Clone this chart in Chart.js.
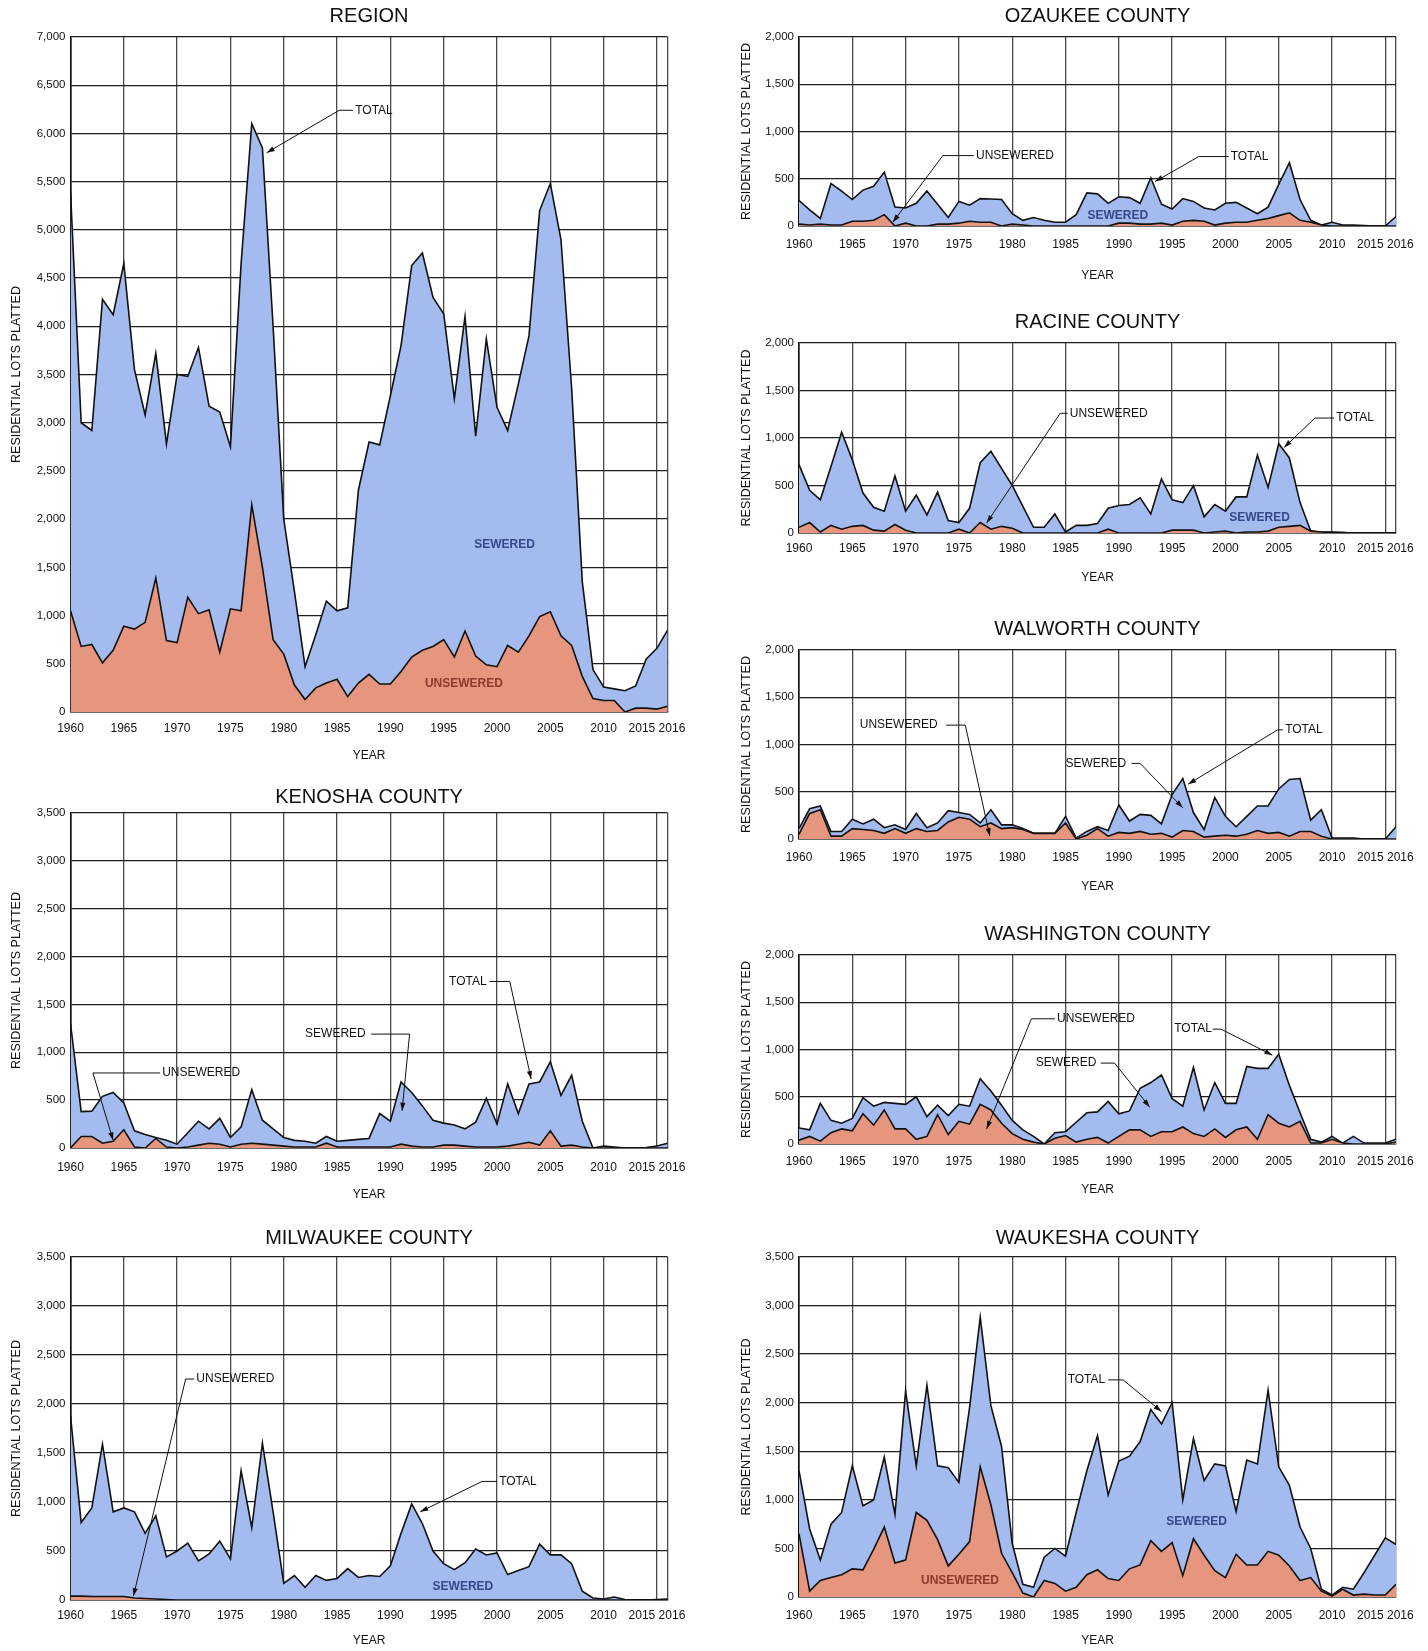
<!DOCTYPE html>
<html>
<head>
<meta charset="utf-8">
<script src="https://cdn.jsdelivr.net/npm/chart.js@4.4.0/dist/chart.umd.min.js"></script>
<style>
  body { margin: 0; background: #fff; width: 1428px; height: 1651px; position: relative; overflow: hidden; }
  canvas { position: absolute; }
</style>
</head>
<body>
<canvas id="region"></canvas>
<canvas id="kenosha"></canvas>
<canvas id="milwaukee"></canvas>
<canvas id="ozaukee"></canvas>
<canvas id="racine"></canvas>
<canvas id="walworth"></canvas>
<canvas id="washington"></canvas>
<canvas id="waukesha"></canvas>
<script>
const years = [1960, 1961, 1962, 1963, 1964, 1965, 1966, 1967, 1968, 1969,
    1970, 1971, 1972, 1973, 1974, 1975, 1976, 1977, 1978, 1979,
    1980, 1981, 1982, 1983, 1984, 1985, 1986, 1987, 1988, 1989,
    1990, 1991, 1992, 1993, 1994, 1995, 1996, 1997, 1998, 1999,
    2000, 2001, 2002, 2003, 2004, 2005, 2006, 2007, 2008, 2009,
    2010, 2011, 2012, 2013, 2014, 2015, 2016];
const xTicks = [1960, 1965, 1970, 1975, 1980, 1985, 1990, 1995, 2000, 2005, 2010, 2015, 2016];

// residential lots platted per year: total and unsewered (sewered = total - unsewered)
const regionTotal = [5400, 3000, 2920, 4280, 4120, 4650, 3550, 3080, 3720, 2780,
    3500, 3480, 3780, 3170, 3110, 2750, 4650, 6100, 5850, 4000,
    2000, 1250, 470, 800, 1150, 1050, 1080, 2300, 2800, 2770,
    3280, 3800, 4630, 4760, 4300, 4130, 3250, 4100, 2860, 3870,
    3160, 2920, 3400, 3900, 5200, 5480, 4900, 3360, 1350, 440,
    260, 240, 220, 270, 550, 660, 850];
const regionUnsewered = [1050, 680, 700, 510, 640, 890, 860, 930, 1390, 740,
    720, 1190, 1020, 1060, 620, 1070, 1050, 2150, 1500, 750,
    600, 280, 130, 250, 300, 340, 160, 300, 390, 290,
    290, 420, 570, 640, 680, 750, 570, 840, 580, 490,
    470, 690, 620, 790, 990, 1040, 790, 690, 370, 140,
    120, 120, 0, 40, 40, 30, 60];

const kenoshaTotal = [1300, 380, 385, 540, 580, 470, 180, 140, 110, 80,
    40, 160, 280, 200, 310, 110, 220, 610, 290, 200,
    110, 80, 70, 50, 120, 70, 80, 90, 100, 360,
    280, 690, 580, 440, 290, 260, 240, 200, 270, 520,
    250, 670, 360, 670, 690, 900, 550, 760, 280, 0,
    20, 10, 0, 0, 5, 20, 50];
const kenoshaUnsewered = [0, 120, 120, 50, 70, 190, 10, 0, 100, 10,
    0, 10, 30, 50, 40, 10, 40, 50, 40, 30,
    20, 10, 10, 10, 50, 10, 10, 10, 10, 10,
    10, 40, 20, 10, 10, 30, 30, 20, 10, 10,
    10, 20, 40, 60, 30, 180, 20, 30, 10, 0,
    0, 0, 0, 0, 0, 0, 0];

const milwaukeeTotal = [1880, 790, 940, 1590, 900, 940, 900, 680, 860, 440,
    500, 580, 400, 470, 600, 420, 1320, 740, 1600, 900,
    170, 250, 130, 250, 200, 220, 320, 230, 250, 240,
    350, 680, 980, 780, 500, 370, 310, 380, 520, 460,
    480, 260, 300, 340, 570, 460, 460, 370, 90, 20,
    10, 30, 5, 0, 0, 5, 10];
const milwaukeeUnsewered = [40, 40, 35, 35, 35, 35, 20, 15, 10, 5,
    0, 0, 0, 0, 0, 0, 0, 0, 0, 0,
    0, 0, 0, 0, 0, 0, 0, 0, 0, 0,
    0, 0, 0, 0, 0, 0, 0, 0, 0, 0,
    0, 0, 0, 0, 0, 0, 0, 0, 0, 0,
    0, 0, 0, 0, 0, 0, 0];

const ozaukeeTotal = [270, 170, 80, 450, 370, 280, 380, 420, 570, 200,
    190, 240, 370, 230, 90, 260, 220, 290, 285, 280,
    130, 60, 90, 60, 40, 40, 120, 350, 340, 240,
    310, 300, 240, 510, 230, 180, 290, 260, 190, 170,
    240, 250, 190, 130, 200, 440, 670, 280, 60, 10,
    40, 10, 10, 5, 0, 0, 100];
const ozaukeeUnsewered = [20, 10, 20, 10, 10, 50, 50, 60, 120, 0,
    30, 0, 0, 20, 20, 30, 50, 40, 40, 0,
    20, 10, 0, 0, 0, 0, 0, 0, 0, 0,
    30, 30, 20, 20, 30, 10, 50, 60, 50, 10,
    30, 40, 40, 60, 80, 110, 140, 60, 40, 10,
    0, 0, 0, 0, 0, 0, 0];

const racineTotal = [720, 450, 350, 700, 1060, 770, 420, 270, 230, 600,
    230, 400, 190, 430, 130, 110, 260, 740, 860, 680,
    500, 280, 60, 60, 200, 10, 80, 80, 100, 260,
    290, 300, 370, 200, 570, 350, 320, 500, 170, 300,
    230, 380, 380, 820, 480, 940, 790, 320, 20, 10,
    10, 5, 0, 0, 0, 0, 0];
const racineUnsewered = [60, 110, 10, 80, 40, 70, 80, 30, 20, 90,
    30, 0, 0, 0, 0, 40, 0, 110, 40, 70,
    50, 0, 0, 0, 0, 0, 0, 0, 0, 40,
    0, 0, 0, 0, 0, 30, 30, 30, 0, 10,
    20, 0, 10, 10, 20, 60, 70, 80, 20, 10,
    5, 5, 0, 0, 0, 0, 0];

const walworthTotal = [110, 320, 350, 80, 80, 210, 160, 210, 120, 150,
    100, 270, 120, 170, 300, 280, 260, 170, 310, 150,
    150, 110, 60, 60, 60, 240, 10, 80, 130, 90,
    360, 190, 260, 250, 160, 470, 640, 280, 100, 440,
    240, 130, 240, 350, 350, 530, 630, 640, 200, 310,
    10, 10, 10, 0, 0, 0, 130];
const walworthUnsewered = [50, 270, 310, 30, 30, 110, 100, 90, 60, 110,
    60, 110, 80, 90, 180, 230, 210, 130, 170, 110,
    120, 100, 60, 60, 60, 170, 0, 40, 110, 30,
    70, 60, 80, 50, 60, 20, 90, 80, 20, 30,
    40, 30, 50, 90, 60, 70, 30, 80, 80, 30,
    0, 0, 0, 0, 0, 0, 0];

const washingtonTotal = [170, 150, 430, 250, 220, 270, 490, 400, 440, 430,
    420, 500, 290, 410, 300, 420, 400, 690, 560, 410,
    250, 150, 80, 0, 120, 130, 230, 330, 340, 450,
    320, 350, 590, 650, 730, 480, 400, 810, 360, 650,
    430, 430, 820, 800, 800, 950, 620, 330, 50, 20,
    80, 10, 80, 10, 10, 10, 50];
const washingtonUnsewered = [40, 80, 30, 120, 160, 140, 320, 200, 360, 160,
    160, 50, 80, 310, 100, 240, 210, 420, 360, 220,
    110, 50, 20, 0, 60, 90, 20, 50, 70, 10,
    80, 150, 150, 80, 130, 130, 180, 110, 80, 160,
    70, 150, 180, 50, 310, 220, 180, 240, 10, 10,
    50, 10, 0, 0, 0, 0, 20];

const waukeshaTotal = [1300, 700, 380, 750, 870, 1350, 940, 1000, 1440, 850,
    2120, 1350, 2180, 1350, 1330, 1180, 1950, 2880, 1970, 1550,
    550, 130, 100, 410, 500, 420, 870, 1300, 1660, 1050,
    1400, 1450, 1600, 1930, 1780, 2000, 1000, 1630, 1200, 1370,
    1350, 880, 1410, 1370, 2130, 1340, 1150, 720, 500, 80,
    20, 100, 80, 250, 430, 610, 540];
const waukeshaUnsewered = [650, 60, 170, 200, 230, 290, 280, 490, 720, 350,
    380, 870, 790, 590, 320, 440, 570, 1340, 950, 450,
    250, 40, 0, 170, 140, 60, 100, 230, 280, 190,
    170, 290, 330, 580, 470, 560, 220, 600, 430, 270,
    200, 440, 330, 330, 470, 430, 320, 170, 200, 60,
    10, 80, 20, 30, 20, 20, 130];

const FONT = '"Liberation Sans", Arial, Helvetica, sans-serif';
const blueFill = '#a3bbee';
const salmonFill = '#e6957f';
const sewText = '#36488a';
const unsText = '#8e3a2c';

const panels = [
    { id: 'region', title: 'REGION', total: regionTotal, unsewered: regionUnsewered, yMax: 7000,
      box: [0, 0, 700], plot: [70.5, 37, 667.6, 712], titleY: 16, tickY: 16, yearY: 44,
      notes: [
        { text: 'TOTAL', x: 1986.7, y: 6240, path: [[1986.5, 6240], [1985.2, 6240], [1978.4, 5800]] },
        { text: 'SEWERED', x: 2000.7, y: 1736, align: 'center', color: sewText, bold: true },
        { text: 'UNSEWERED', x: 1996.9, y: 295, align: 'center', color: unsText, bold: true }
      ] },
    { id: 'kenosha', title: 'KENOSHA COUNTY', total: kenoshaTotal, unsewered: kenoshaUnsewered, yMax: 3500,
      box: [0, 780, 700], plot: [70.5, 813, 667.6, 1148], titleY: 797, tickY: 19, yearY: 47,
      notes: [
        { text: 'UNSEWERED', x: 1968.6, y: 784, path: [[1968.4, 784], [1962.1, 784], [1964, 80]] },
        { text: 'SEWERED', x: 1982, y: 1190, path: [[1988.2, 1190], [1991.8, 1190], [1991.1, 390]] },
        { text: 'TOTAL', x: 1995.5, y: 1740, path: [[1999.3, 1740], [2001.2, 1740], [2003.2, 720]] }
      ] },
    { id: 'milwaukee', title: 'MILWAUKEE COUNTY', total: milwaukeeTotal, unsewered: milwaukeeUnsewered, yMax: 3500,
      box: [0, 1220, 700], plot: [70.5, 1257, 667.6, 1600], titleY: 1238, tickY: 15, yearY: 41,
      notes: [
        { text: 'UNSEWERED', x: 1971.8, y: 2255, path: [[1971.6, 2255], [1970.8, 2255], [1965.9, 40]] },
        { text: 'TOTAL', x: 2000.2, y: 1210, path: [[2000, 1210], [1998.6, 1210], [1992.8, 900]] },
        { text: 'SEWERED', x: 1996.8, y: 140, align: 'center', color: sewText, bold: true }
      ] },
    { id: 'ozaukee', title: 'OZAUKEE COUNTY', total: ozaukeeTotal, unsewered: ozaukeeUnsewered, yMax: 2000,
      box: [730, 0, 698], plot: [799, 37, 1396, 226], titleY: 16, tickY: 18, yearY: 50,
      notes: [
        { text: 'UNSEWERED', x: 1976.6, y: 745, path: [[1976.4, 745], [1973.5, 745], [1968.8, 40]] },
        { text: 'TOTAL', x: 2000.5, y: 735, path: [[2000.3, 735], [1997.5, 735], [1993.4, 470]] },
        { text: 'SEWERED', x: 1989.9, y: 112, align: 'center', color: sewText, bold: true }
      ] },
    { id: 'racine', title: 'RACINE COUNTY', total: racineTotal, unsewered: racineUnsewered, yMax: 2000,
      box: [730, 305, 698], plot: [799, 343, 1396, 533], titleY: 322, tickY: 15, yearY: 45,
      notes: [
        { text: 'UNSEWERED', x: 1985.4, y: 1260, path: [[1985.2, 1260], [1984.5, 1260], [1977.6, 105]] },
        { text: 'TOTAL', x: 2010.4, y: 1210, path: [[2010.2, 1210], [2008.4, 1210], [2005.5, 900]] },
        { text: 'SEWERED', x: 2003.2, y: 160, align: 'center', color: sewText, bold: true }
      ] },
    { id: 'walworth', title: 'WALWORTH COUNTY', total: walworthTotal, unsewered: walworthUnsewered, yMax: 2000,
      box: [730, 610, 698], plot: [799, 650, 1396, 839], titleY: 629, tickY: 18, yearY: 48,
      notes: [
        { text: 'UNSEWERED', x: 1965.7, y: 1205, path: [[1973.8, 1205], [1975.6, 1205], [1977.9, 30]] },
        { text: 'SEWERED', x: 1985, y: 800, path: [[1991.2, 800], [1992, 800], [1996, 330]] },
        { text: 'TOTAL', x: 2005.6, y: 1155, path: [[2005.4, 1155], [2004.9, 1155], [1996.5, 580]] }
      ] },
    { id: 'washington', title: 'WASHINGTON COUNTY', total: washingtonTotal, unsewered: washingtonUnsewered, yMax: 2000,
      box: [730, 915, 698], plot: [799, 955, 1396, 1144], titleY: 934, tickY: 17, yearY: 46,
      notes: [
        { text: 'UNSEWERED', x: 1984.2, y: 1325, path: [[1984, 1325], [1981.8, 1325], [1977.6, 160]] },
        { text: 'TOTAL', x: 1995.2, y: 1215, path: [[1998.8, 1215], [1999.6, 1215], [2004.4, 940]] },
        { text: 'SEWERED', x: 1982.2, y: 856, path: [[1988.3, 856], [1989.6, 856], [1992.9, 390]] }
      ] },
    { id: 'waukesha', title: 'WAUKESHA COUNTY', total: waukeshaTotal, unsewered: waukeshaUnsewered, yMax: 3500,
      box: [730, 1220, 698], plot: [799, 1257, 1396, 1597], titleY: 1238, tickY: 18, yearY: 44,
      notes: [
        { text: 'TOTAL', x: 1985.2, y: 2235, path: [[1989, 2235], [1990.4, 2235], [1994, 1910]] },
        { text: 'SEWERED', x: 1997.3, y: 780, align: 'center', color: sewText, bold: true },
        { text: 'UNSEWERED', x: 1975.1, y: 165, align: 'center', color: unsText, bold: true }
      ] }
];

function titlePlugin(p) {
    return {
        id: 'panelTitle',
        afterDraw(chart) {
            const { ctx, chartArea } = chart;
            ctx.save();
            ctx.font = '20px ' + FONT;
            ctx.fillStyle = '#111';
            ctx.textAlign = 'center';
            ctx.textBaseline = 'middle';
            ctx.fillText(p.title, (chartArea.left + chartArea.right) / 2, p.titleY - p.box[1]);
            ctx.restore();
        }
    };
}

function calloutPlugin(p) {
    return {
        id: 'callouts',
        afterDraw(chart) {
            const { ctx, scales: { x, y } } = chart;
            p.notes.forEach(n => {
                ctx.save();
                if (n.path) {
                    const pts = n.path.map(([a, b]) => [x.getPixelForValue(a), y.getPixelForValue(b)]);
                    ctx.strokeStyle = '#111';
                    ctx.lineWidth = 1;
                    ctx.beginPath();
                    pts.forEach(([px, py], i) => i ? ctx.lineTo(px, py) : ctx.moveTo(px, py));
                    ctx.stroke();
                    const [x1, y1] = pts[pts.length - 2];
                    const [x2, y2] = pts[pts.length - 1];
                    const ang = Math.atan2(y2 - y1, x2 - x1);
                    const c = Math.cos(ang), s = Math.sin(ang);
                    ctx.fillStyle = '#111';
                    ctx.beginPath();
                    ctx.moveTo(x2, y2);
                    ctx.lineTo(x2 - 8 * c + 2.6 * s, y2 - 8 * s - 2.6 * c);
                    ctx.lineTo(x2 - 8 * c - 2.6 * s, y2 - 8 * s + 2.6 * c);
                    ctx.closePath();
                    ctx.fill();
                }
                ctx.font = (n.bold ? 'bold ' : '') + '12px ' + FONT;
                ctx.fillStyle = n.color || '#111';
                ctx.textAlign = n.align || 'left';
                ctx.textBaseline = 'middle';
                ctx.fillText(n.text, x.getPixelForValue(n.x), y.getPixelForValue(n.y));
                ctx.restore();
            });
        }
    };
}

panels.forEach(p => {
    const [left, top, width] = p.box;
    const [pl, pt, pr, pb] = p.plot;
    const xAxisH = p.yearY + 9;
    const height = Math.round(pb + xAxisH - top);
    const canvas = document.getElementById(p.id);
    canvas.width = width;
    canvas.height = height;
    canvas.style.left = left + 'px';
    canvas.style.top = top + 'px';
    canvas.style.width = width + 'px';
    canvas.style.height = height + 'px';

    new Chart(canvas.getContext('2d'), {
        type: 'line',
        data: {
            datasets: [
                {
                    label: 'UNSEWERED',
                    data: years.map((yr, i) => ({ x: yr, y: p.unsewered[i] })),
                    borderColor: '#111',
                    borderWidth: 1.6,
                    backgroundColor: salmonFill,
                    fill: 'origin',
                    pointRadius: 0,
                    tension: 0
                },
                {
                    label: 'TOTAL',
                    data: years.map((yr, i) => ({ x: yr, y: p.total[i] })),
                    borderColor: '#111',
                    borderWidth: 1.6,
                    backgroundColor: blueFill,
                    fill: 'origin',
                    pointRadius: 0,
                    tension: 0
                }
            ]
        },
        options: {
            responsive: false,
            animation: false,
            layout: { padding: { top: pt - top, right: left + width - pr, bottom: 0, left: 0 } },
            plugins: { legend: { display: false }, tooltip: { enabled: false } },
            scales: {
                x: {
                    type: 'linear',
                    min: 1960,
                    max: 2016,
                    z: 1,
                    afterBuildTicks: s => { s.ticks = xTicks.map(v => ({ value: v })); },
                    afterFit: s => { s.height = xAxisH; },
                    ticks: {
                        autoSkip: false,
                        maxRotation: 0,
                        padding: p.tickY - 7,
                        color: '#111',
                        font: { family: FONT, size: 12 },
                        callback: v => v === 2015 ? '2015 2016' : (v === 2016 ? '' : String(v))
                    },
                    grid: { color: '#4a4a4a', lineWidth: 1.3, drawTicks: false },
                    border: { color: '#111', width: 1.6 },
                    title: {
                        display: true, text: 'YEAR', color: '#111',
                        font: { family: FONT, size: 12 }, padding: { top: 0, bottom: 2 }
                    }
                },
                y: {
                    min: 0,
                    max: p.yMax,
                    z: 1,
                    afterFit: s => { s.width = pl - left; },
                    ticks: {
                        stepSize: 500,
                        padding: 5,
                        color: '#111',
                        font: { family: FONT, size: 11.5 },
                        callback: v => v.toLocaleString('en-US')
                    },
                    grid: { color: '#1e1e1e', lineWidth: 1.3, drawTicks: false },
                    border: { color: '#111', width: 1.6 },
                    title: {
                        display: true, text: 'RESIDENTIAL LOTS PLATTED', color: '#111',
                        font: { family: FONT, size: 12.5 }, padding: { top: 9, bottom: 0 }
                    }
                }
            }
        },
        plugins: [titlePlugin(p), calloutPlugin(p)]
    });
});
</script>
</body>
</html>
